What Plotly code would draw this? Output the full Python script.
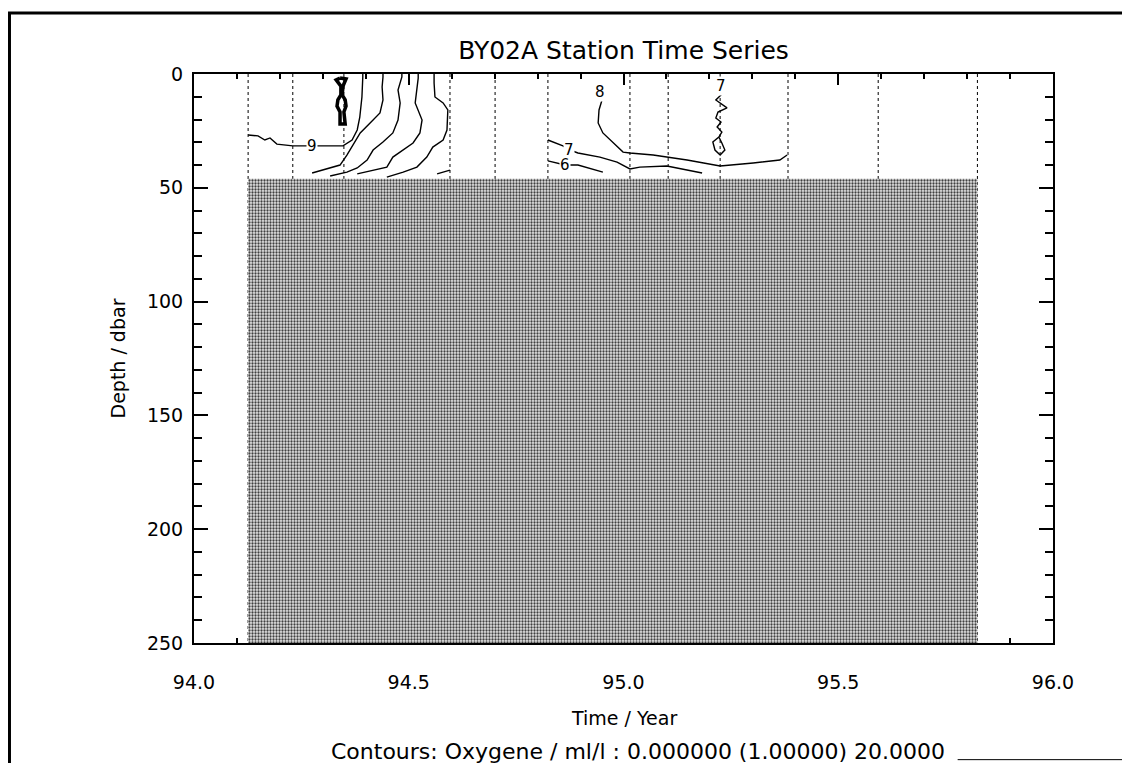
"""BY02A station time series: oxygen contours over depth and time."""

import plotly.graph_objects as go

# sampling times of the station visits (decimal year)
station_times = [94.126, 94.230, 94.349, 94.596, 94.701, 94.824,
                 95.015, 95.104, 95.225, 95.383, 95.593, 95.824]

# depth range with data; below mask_top the section is shaded
mask_top = 46
max_depth = 250

# oxygen contour lines (ml/l) traced off the section, time / depth pairs
c9_time = [94.126, 94.149, 94.165, 94.177, 94.193, 94.230, 94.275, 94.305,
           94.347, 94.368, 94.380, 94.386, 94.391, 94.393, 94.393]
c9_depth = [26.8, 27.2, 29.0, 28.1, 30.8, 31.6, 31.6, 31.6,
            31.6, 29.0, 24.6, 18.9, 10.1, 1.3, 0.0]

c10_time = [94.340, 94.354, 94.347, 94.345, 94.352, 94.354, 94.349, 94.352,
            94.340, 94.340, 94.333, 94.335, 94.342, 94.342, 94.331, 94.340]
c10_depth = [1.8, 2.2, 5.3, 9.2, 11.4, 14.1, 16.7, 22.0,
             22.0, 16.7, 14.1, 11.4, 9.2, 5.3, 2.6, 1.8]

c8a_time = [94.275, 94.310, 94.340, 94.356, 94.370, 94.387, 94.410, 94.433,
            94.440, 94.438, 94.440, 94.440]
c8a_depth = [43.5, 41.7, 40.0, 35.6, 31.2, 25.9, 21.5, 17.1,
             11.4, 5.7, 1.3, 0.0]

c7a_time = [94.317, 94.356, 94.380, 94.403, 94.417, 94.440, 94.463, 94.475,
            94.480, 94.475, 94.484, 94.484]
c7a_depth = [44.8, 43.1, 41.3, 37.8, 33.4, 29.9, 25.9, 20.2,
             12.7, 7.0, 1.3, 0.0]

c6a_time = [94.380, 94.417, 94.449, 94.463, 94.487, 94.510, 94.526, 94.531,
            94.515, 94.519, 94.522, 94.522]
c6a_depth = [43.9, 42.2, 40.9, 36.5, 33.4, 30.3, 25.9, 20.2,
             12.7, 7.0, 1.8, 0.0]

c5a_time = [94.449, 94.487, 94.519, 94.542, 94.556, 94.580, 94.589, 94.591,
            94.580, 94.561, 94.559, 94.559]
c5a_depth = [45.3, 43.1, 40.9, 36.5, 32.1, 29.0, 24.6, 15.8,
             12.7, 10.1, 4.0, 0.0]

c4a_time = [94.566, 94.596]
c4a_depth = [43.9, 42.2]

c8b_time = [94.946, 94.950, 94.943, 94.941, 94.952, 94.976, 94.999, 95.015,
            95.069, 95.148, 95.225, 95.302, 95.364, 95.381]
c8b_depth = [7.9, 11.4, 15.8, 21.5, 25.9, 30.3, 34.3, 34.7,
             35.6, 37.8, 40.4, 39.1, 37.8, 35.6]

c7b_time = [94.824, 94.859, 94.875, 94.894, 94.945, 94.985, 95.015, 95.038,
            95.101, 95.183]
c7b_depth = [29.0, 31.6, 33.4, 34.7, 36.5, 38.7, 41.7, 40.9,
             40.4, 43.5]

c6b_time = [94.824, 94.864, 94.894, 94.952]
c6b_depth = [38.2, 40.0, 40.0, 43.1]

c8c_time = [95.227, 95.227, 95.215, 95.229, 95.241, 95.220, 95.215, 95.227,
            95.218, 95.229, 95.222, 95.208, 95.213, 95.225, 95.236, 95.229,
            95.222]
c8c_depth = [5.3, 9.2, 11.4, 13.2, 14.9, 16.7, 19.3, 21.1,
             23.3, 25.5, 27.7, 29.9, 33.4, 35.6, 33.4, 30.3,
             27.7]

# contour labels
label_text = ["9", "7", "6", "8", "7"]
label_time = [94.275, 94.872, 94.864, 94.946, 95.227]
label_depth = [31.6, 33.4, 40.0, 7.9, 5.3]

contour_lines = [
    (c9_time, c9_depth, 1.4), (c10_time, c10_depth, 3.5),
    (c8a_time, c8a_depth, 1.4), (c7a_time, c7a_depth, 1.4),
    (c6a_time, c6a_depth, 1.4), (c5a_time, c5a_depth, 1.4),
    (c4a_time, c4a_depth, 1.4), (c8b_time, c8b_depth, 1.4),
    (c7b_time, c7b_depth, 1.4), (c6b_time, c6b_depth, 1.4),
    (c8c_time, c8c_depth, 1.4),
]

FONT = "DejaVu Sans"

fig = go.Figure()

# station markers as dotted verticals
for t in station_times:
    fig.add_trace(go.Scatter(
        x=[t, t], y=[0, max_depth], mode="lines",
        line={"color": "black", "width": 1, "dash": "dot"},
        hoverinfo="skip", showlegend=False,
    ))

# shaded region without data
t0, t1 = station_times[0], station_times[-1]
fig.add_trace(go.Scatter(
    x=[t0, t1, t1, t0, t0],
    y=[mask_top, mask_top, max_depth, max_depth, mask_top],
    mode="lines", fill="toself",
    line={"width": 0, "color": "rgba(0,0,0,0)"},
    fillcolor="#a0a0a0",
    fillpattern={"shape": ".", "size": 3, "solidity": 0.45,
                 "fgcolor": "#404040", "bgcolor": "#e4e4e4", "fillmode": "replace"},
    hoverinfo="skip", showlegend=False,
))

for xs, ys, w in contour_lines:
    fig.add_trace(go.Scatter(
        x=xs, y=ys, mode="lines",
        line={"color": "black", "width": w},
        hoverinfo="skip", showlegend=False,
    ))

for txt, t, d in zip(label_text, label_time, label_depth):
    fig.add_annotation(
        x=t, y=d, text=txt, showarrow=False,
        font={"family": FONT, "size": 15, "color": "black"},
        bgcolor="white", borderpad=0,
    )

axis_common = dict(
    showline=True, linecolor="black", linewidth=2, mirror="ticks",
    ticks="inside", tickcolor="black", tickwidth=1.5,
    showgrid=False, zeroline=False, automargin=False,
    tickfont={"family": FONT, "size": 19, "color": "black"},
)

fig.update_xaxes(
    range=[94, 96], tick0=94, dtick=0.5, tickformat=".1f", ticklen=11,
    minor={"dtick": 0.1, "ticks": "inside", "ticklen": 5, "tickcolor": "black"},
    ticklabelstandoff=21, layer="below traces",
    **axis_common,
)
fig.update_yaxes(
    range=[max_depth, 0], tick0=0, dtick=50, ticklen=14,
    minor={"dtick": 10, "ticks": "inside", "ticklen": 8, "tickcolor": "black"},
    ticklabelstandoff=5,
    **axis_common,
)

fig.add_annotation(
    xref="paper", yref="paper", x=0.5, y=-0.132, xanchor="center",
    yanchor="middle", text="Time / Year", showarrow=False,
    font={"family": FONT, "size": 19, "color": "black"},
)
fig.add_annotation(
    xref="paper", yref="paper", x=-0.0885, y=0.5, xanchor="center",
    yanchor="middle", text="Depth / dbar", textangle=-90, showarrow=False,
    font={"family": FONT, "size": 19, "color": "black"},
)
fig.add_annotation(
    xref="paper", yref="paper", x=0.517, y=-0.19, xanchor="center",
    yanchor="middle",
    text="Contours: Oxygene / ml/l : 0.000000 (1.00000) 20.0000",
    showarrow=False, font={"family": FONT, "size": 22, "color": "black"},
)

# scanned page border
fig.add_shape(type="line", xref="paper", yref="paper", x0=-0.23, x1=1.1,
              y0=1.107, y1=1.107, line={"color": "black", "width": 3})
fig.add_shape(type="line", xref="paper", yref="paper", x0=-0.2148, x1=-0.2148,
              y0=-0.23, y1=1.107, line={"color": "black", "width": 3})
fig.add_shape(type="line", xref="paper", yref="paper", x0=0.889, x1=1.1,
              y0=-0.205, y1=-0.205, line={"color": "black", "width": 1})

# the page body adds an 8 px offset, so the figure is 8 px smaller each way
fig.update_layout(
    width=1122, height=755,
    margin={"l": 186, "r": 77, "t": 66, "b": 120},
    paper_bgcolor="white", plot_bgcolor="white",
    title={"text": "BY02A Station Time Series", "xref": "paper", "x": 0.5,
           "yref": "container", "y": 0.944, "yanchor": "middle",
           "font": {"family": FONT, "size": 25, "color": "black"}},
)

fig.write_html("out.html")
